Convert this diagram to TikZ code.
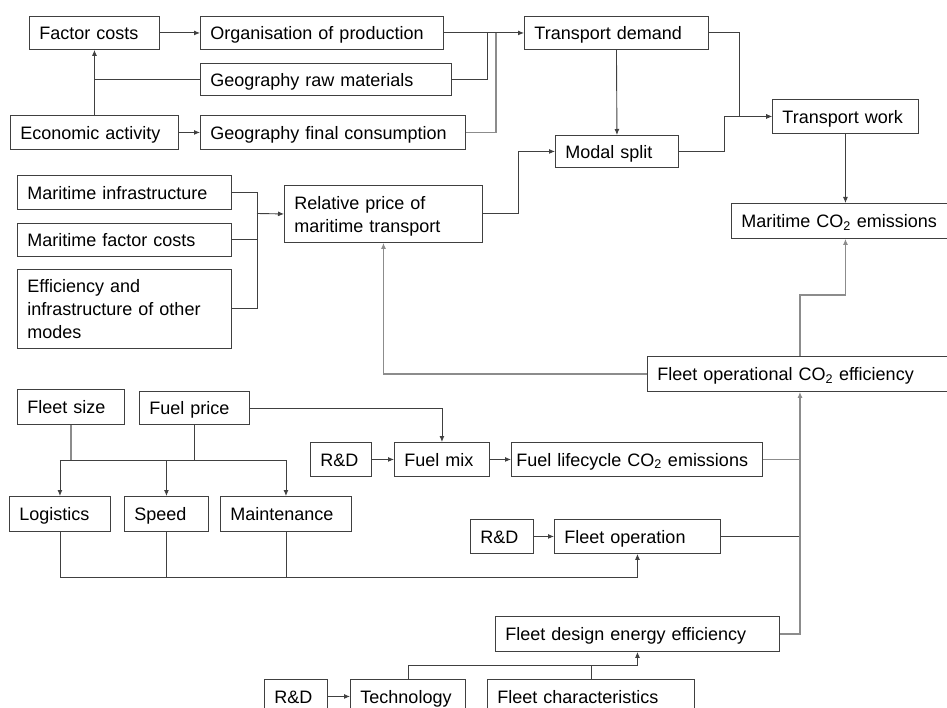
\documentclass[tikz,border=0pt]{standalone}
\usepackage{fontspec}
\setmainfont{Liberation Sans}
\usetikzlibrary{arrows.meta}

\newcommand{\bstrut}{\rule[-3pt]{0pt}{20pt}}
\newcommand{\cotwo}{CO\textsubscript{2}}
\tikzset{
  box/.style={draw=black!75, line width=0.9pt, anchor=north west, align=left,
    inner xsep=10pt, inner ysep=2pt, font=\fontsize{18}{23}\selectfont,
    execute at begin node=\bstrut, execute at end node=\bstrut},
  wire/.style={draw=black!75, line width=0.9pt},
  gwire/.style={draw=black!45, line width=1.1pt},
  arr/.style={wire, -{Latex[length=6pt,width=5pt]}},
  garr/.style={gwire, -{Latex[length=6pt,width=5pt]}}
}

\begin{document}
\begin{tikzpicture}[x=1pt, y=-1pt]
    \useasboundingbox (0,0) rectangle (947,708);

    % Demand side
    \node[box, text width=110pt, minimum height=33pt] (fc) at (29,16) {Factor costs};
    \node[box, text width=223pt, minimum height=33pt] (org) at (200,16) {Organisation of production};
    \node[box, text width=231pt, minimum height=32pt] (geor) at (200,63) {Geography raw materials};
    \node[box, text width=148pt, minimum height=34pt] (eco) at (10,115) {Economic activity};
    \node[box, text width=245pt, minimum height=34pt] (geof) at (200,115) {Geography final consumption};
    \node[box, text width=164pt, minimum height=33pt] (td) at (524,16) {Transport demand};
    \node[box, text width=103pt, minimum height=32pt] (ms) at (555,135) {Modal split};
    \node[box, text width=126pt, minimum height=34pt] (tw) at (772,99) {Transport work};
    \node[box, text width=200pt, minimum height=35pt] (mco) at (731,203) {Maritime \cotwo{} emissions};

    % Relative price
    \node[box, text width=178pt, minimum height=57pt] (rp) at (284,185) {Relative price of\\maritime transport};
    \node[box, text width=194pt, minimum height=34pt] (mi) at (17,175) {Maritime infrastructure};
    \node[box, text width=194pt, minimum height=33pt] (mfc) at (17,223) {Maritime factor costs};
    \node[box, text width=194pt, minimum height=79pt] (eff) at (17,269) {Efficiency and\\infrastructure of other\\modes};

    % Fleet
    \node[box, text width=285pt, minimum height=35pt] (fop) at (647,356) {Fleet operational \cotwo{} efficiency};
    \node[box, text width=87pt, minimum height=35pt] (fs) at (17,389) {Fleet size};
    \node[box, text width=90pt, minimum height=33pt] (fp) at (139,391) {Fuel price};
    \node[box, text width=81pt, minimum height=35pt] (log) at (9,496) {Logistics};
    \node[box, text width=64pt, minimum height=35pt] (spd) at (124,496) {Speed};
    \node[box, text width=111pt, minimum height=35pt] (mnt) at (220,496) {Maintenance};
    \node[box, text width=41pt, minimum height=34pt] (rda) at (310,442) {R\&D};
    \node[box, text width=75pt, minimum height=34pt] (fmix) at (394,442) {Fuel mix};
    \node[box, text width=241pt, inner xsep=5pt, minimum height=34pt] (flc) at (511,442) {Fuel lifecycle \cotwo{} emissions};
    \node[box, text width=43pt, minimum height=34pt] (rdb) at (470,519) {R\&D};
    \node[box, text width=146pt, minimum height=34pt] (fo) at (554,519) {Fleet operation};
    \node[box, text width=264pt, minimum height=35pt] (fde) at (495,616) {Fleet design energy efficiency};
    \node[box, text width=43pt, minimum height=34pt] (rdc) at (264,679) {R\&D};
    \node[box, text width=95pt, minimum height=34pt] (tech) at (350,679) {Technology};
    \node[box, text width=187pt, minimum height=34pt] (fch) at (487,679) {Fleet characteristics};

    \coordinate (mj) at (257,213.5);
    \coordinate (br) at (0,460);
    \coordinate (bl) at (0,577);
    \coordinate (tj) at (0,665);

    % top rows
    \draw[arr] (fc.east) -- (org.west);
    \draw[arr] (eco.north) -- (fc.south);
    \draw[wire] (geor.west) -- (geor.west -| eco.north);
    \draw[arr] (eco.east) -- (geof.west);
    \draw[arr] (org.east) -- (td.west);
    \draw[wire] (geor.east) -| ([xshift=-37pt]td.west);
    \draw[gwire] (geof.east) -| ([xshift=-28pt]td.west);
    \draw[arr] (td.south) -- (ms.north);
    \draw[arr] (td.east) -| ([xshift=-33pt]tw.west) -- (tw.west);
    \draw[arr] (ms.east) -| ([xshift=-48pt]tw.west) -- (tw.west);
    \draw[arr] (tw.south) -- (tw.south |- mco.north);

    % into relative price
    \draw[wire] (mi.east) -| (mj);
    \draw[wire] (eff.east) -| (mj);
    \draw[wire] (mfc.east) -- (mfc.east -| mj);
    \draw[arr] (mj) -- (rp.west);
    \draw[arr] (rp.east) -| ([xshift=-37pt]ms.west) -- (ms.west);
    \draw[garr] (fop.west) -| (rp.south);
    \draw[garr] (fop.north) -- ++(0,-61) -| (tw.south |- mco.south);

    % operation
    \draw[gwire] (fs.south) -- (fs.south |- br);
    \draw[wire] (fp.south) -- (fp.south |- br);
    \draw[wire] (log.north |- br) -- (mnt.north |- br);
    \foreach \n in {log,spd,mnt}
        \draw[arr] (\n.north |- br) -- (\n.north);
    \draw[arr] (fp.east) -| (fmix.north);
    \draw[arr] (rda.east) -- (fmix.west);
    \draw[arr] (fmix.east) -- (flc.west);
    \draw[gwire] (flc.east) -- (flc.east -| fop.south);
    \draw[arr] (rdb.east) -- (fo.west);
    \draw[wire] (fo.east) -- (fo.east -| fop.south);
    \draw[arr] (log.south) |- (fo.south |- bl) -- (fo.south);
    \draw[wire] (spd.south) -- (spd.south |- bl);
    \draw[wire] (mnt.south) -- (mnt.south |- bl);
    \draw[garr] (fde.east) -| (fop.south);

    % design
    \draw[arr] (rdc.east) -- (tech.west);
    \draw[arr] (tech.north) |- (fde.south |- tj) -- (fde.south);
    \draw[wire] (fch.north) -- (fch.north |- tj);
\end{tikzpicture}
\end{document}
